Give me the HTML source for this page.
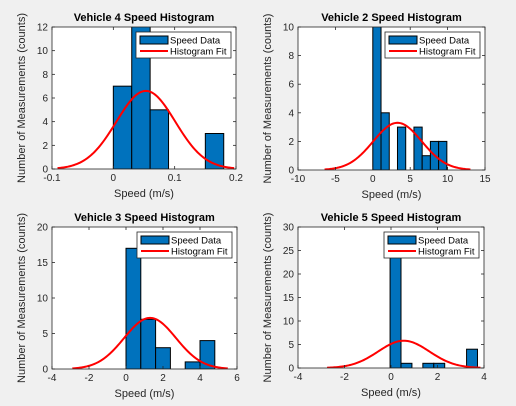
<!DOCTYPE html>
<html><head><meta charset="utf-8"><style>
body{margin:0;background:#f0f0f0;}
svg{display:block;font-family:"Liberation Sans",sans-serif;}
</style></head><body>
<svg id="fig" width="516" height="406"></svg>
<script>
const titles=["Vehicle 4 Speed Histogram","Vehicle 2 Speed Histogram","Vehicle 3 Speed Histogram","Vehicle 5 Speed Histogram"];
const binStarts=[0,0,0,-0.04];
const binWidths=[0.03,1.1,0.8,0.47];
const counts1=[7,13,5,0,0,3];
const counts2=[11,4,0,3,0,3,1,2,2];
const counts3=[17,7,3,0,1,4];
const counts4=[27,1,0,1,1,0,0,4];
const fitMu=[0.053,3.3,1.3,0.55];
const fitSigma=[0.048,3.25,1.4,1.1];
const fitPeak=[6.6,3.3,7.2,5.8];
const xTicks1=[-0.1,0,0.1,0.2];
const xTicks2=[-10,-5,0,5,10,15];
const xTicks3=[-4,-2,0,2,4,6];
const xTicks4=[-4,-2,0,2,4];
const yTicks1=[0,2,4,6,8,10,12];
const yTicks2=[0,2,4,6,8,10];
const yTicks3=[0,5,10,15,20];
const yTicks4=[0,5,10,15,20,25,30];
const allCounts=[counts1,counts2,counts3,counts4];
const allX=[xTicks1,xTicks2,xTicks3,xTicks4];
const allY=[yTicks1,yTicks2,yTicks3,yTicks4];
const boxes=[[52,27,236,169],[298,27,485,170],[52,227,237,369],[298,227,484,368]];
const NS="http://www.w3.org/2000/svg";
const fig=document.getElementById('fig');
function mk(tag,attrs,parent,text){const e=document.createElementNS(NS,tag);for(const k in attrs)e.setAttribute(k,attrs[k]);if(text!==undefined)e.textContent=text;parent.appendChild(e);return e;}
for(let p=0;p<4;p++){
  const [L,T,R,B]=boxes[p];
  const xt=allX[p],yt=allY[p];
  const x0=xt[0],x1=xt[xt.length-1],y0=yt[0],y1=yt[yt.length-1];
  const sx=v=>L+(v-x0)/(x1-x0)*(R-L);
  const sy=v=>B-(v-y0)/(y1-y0)*(B-T);
  const g=mk('g',{},fig);
  
  
  const clipId='c'+p;
  const cp=mk('clipPath',{id:clipId},g);mk('rect',{x:L,y:T,width:R-L,height:B-T},cp);
  const bg=mk('rect',{x:L,y:T,width:R-L,height:B-T,fill:'#fff'},g);
  
  
  const inner=mk('g',{'clip-path':'url(#'+clipId+')'},g);
  const cs=allCounts[p];
  cs.forEach((c,i)=>{
    if(c<=0)return;
    const a=binStarts[p]+i*binWidths[p],b=a+binWidths[p];
    const r=mk('rect',{x:sx(a),y:sy(c),width:sx(b)-sx(a),height:sy(0)-sy(c),fill:'#0072BD',stroke:'#000','stroke-width':1},inner);
    
    
  });
  const mu=fitMu[p],s=fitSigma[p],pk=fitPeak[p];
  let d='';
  for(let k=0;k<=120;k++){const x=mu-3*s+6*s*k/120;const y=pk*Math.exp(-(x-mu)*(x-mu)/(2*s*s));d+=(k?'L':'M')+sx(x).toFixed(2)+','+sy(y).toFixed(2);}
  const ln=mk('path',{d:d,fill:'none',stroke:'#f00','stroke-width':2},inner);
  
  
  const fr=mk('rect',{x:L,y:T,width:R-L,height:B-T,fill:'none',stroke:'#262626','stroke-width':0.8},g);
  
  
  xt.forEach(v=>{
    const X=sx(v);
    mk('line',{x1:X,y1:B,x2:X,y2:B-3,stroke:'#262626','stroke-width':0.8},g);
    mk('line',{x1:X,y1:T,x2:X,y2:T+3,stroke:'#262626','stroke-width':0.8},g);
    const t=mk('text',{x:X,y:B+12,'font-size':10,fill:'#262626','text-anchor':'middle'},g,String(v));
    
    
  });
  yt.forEach(v=>{
    const Y=sy(v);
    mk('line',{x1:L,y1:Y,x2:L+3,y2:Y,stroke:'#262626','stroke-width':0.8},g);
    mk('line',{x1:R,y1:Y,x2:R-3,y2:Y,stroke:'#262626','stroke-width':0.8},g);
    const t=mk('text',{x:L-4,y:Y+3.5,'font-size':10,fill:'#262626','text-anchor':'end'},g,String(v));
    
    
  });
  const tt=mk('text',{x:(L+R)/2,y:T-6,'font-size':11,'font-weight':'bold',fill:'#000','text-anchor':'middle'},g,titles[p]);
  
  
  const xl=mk('text',{x:(L+R)/2,y:B+28,'font-size':11,fill:'#262626','text-anchor':'middle'},g,'Speed (m/s)');
  
  
  const yx=L-27,yy=(T+B)/2;
  const yl=mk('text',{x:yx,y:yy,'font-size':11,fill:'#262626','text-anchor':'middle',transform:'rotate(-90 '+yx+' '+yy+')'},g,'Number of Measurements (counts)');
  
  
  const lg=mk('g',{},g);
  
  
  const lw=95,lh=26,lx=R-5-lw,ly=T+5;
  mk('rect',{x:lx,y:ly,width:lw,height:lh,fill:'#fff',stroke:'#262626','stroke-width':0.8},lg);
  mk('rect',{x:lx+4,y:ly+4,width:28,height:8,fill:'#0072BD',stroke:'#000','stroke-width':1},lg);
  const l1=mk('text',{x:lx+34,y:ly+11.5,'font-size':9.5,fill:'#000'},lg,'Speed Data');
  
  
  mk('line',{x1:lx+4,y1:ly+19,x2:lx+32,y2:ly+19,stroke:'#f00','stroke-width':2},lg);
  const l2=mk('text',{x:lx+34,y:ly+22.5,'font-size':9.5,fill:'#000'},lg,'Histogram Fit');
  
  
}
</script>
</body></html>
